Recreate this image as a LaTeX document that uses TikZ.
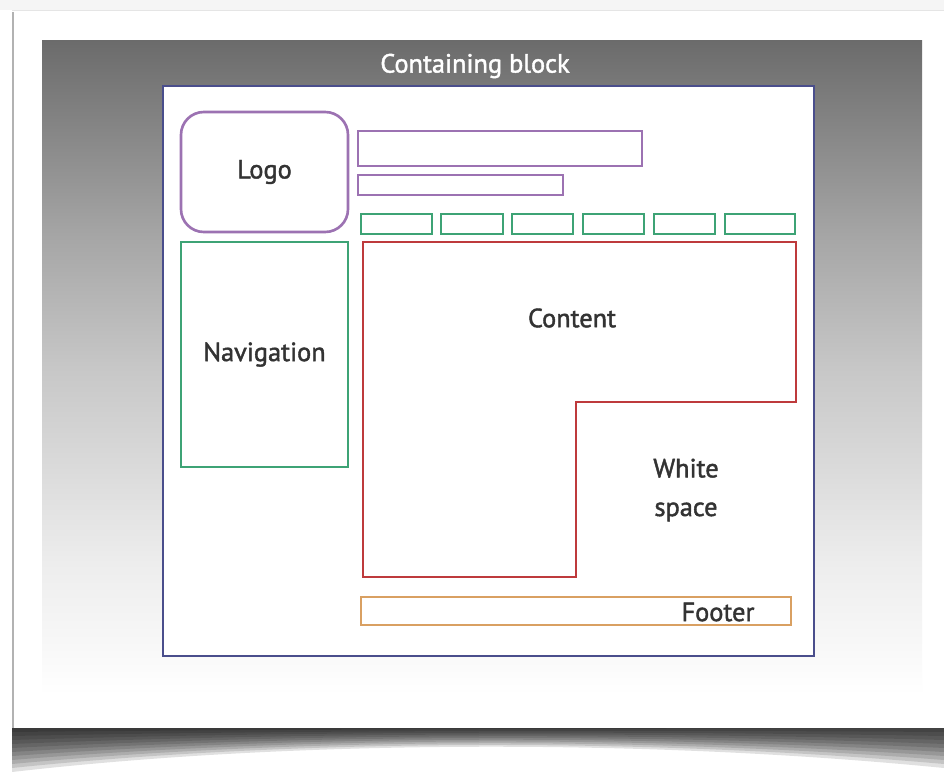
\documentclass[tikz,border=0pt]{standalone}
\usepackage{fontspec}
\setmainfont{PT Sans}
\newfontfamily\boxfont{PT Sans}[FakeBold=1.6]
\usetikzlibrary{positioning}
\definecolor{frameblue}{HTML}{4A4E8C}
\definecolor{logopurple}{HTML}{9C72B2}
\definecolor{navgreen}{HTML}{3DA375}
\definecolor{contentred}{HTML}{BE3A3C}
\definecolor{footerorange}{HTML}{D9A062}
\definecolor{textgray}{HTML}{333333}
\pgfdeclareverticalshading{panelshade}{100bp}{color(0bp)=(white); color(25bp)=(white);
  color(29bp)=(black!3); color(35bp)=(black!7); color(42bp)=(black!14);
  color(50bp)=(black!22); color(60bp)=(black!35); color(75bp)=(black!58); color(100bp)=(black!58)}

\begin{document}
\begin{tikzpicture}[x=0.02cm, y=-0.02cm,
        block/.style={rectangle, line width=1.5pt, inner sep=0pt, outer sep=0pt, fill=white},
        size/.style 2 args={minimum width=#1*0.02cm, minimum height=#2*0.02cm},
        boxtext/.style={font=\boxfont\fontsize{15}{18}\selectfont, text=textgray}]
      \useasboundingbox (0,0) rectangle (944,778);
      % Page and shadow
      \fill[white] (0,0) rectangle (944,778);
      \fill[black!4] (0,0) rectangle (944,10);
      \foreach \d in {4,8,...,44}
        \fill[black, opacity=0.12] (12,728) -- (944,728) -- (944,724+\d)
          .. controls (650,728+\d*0.25) and (300,728+\d*0.25) .. (12,728+\d) -- cycle;
      \fill[white] (12,10) rectangle (944,728);
      \draw[black!10] (944,10) -- (12,10);
      \draw[black!30, line width=1.5pt] (13,12) -- (13,728);
      \shade[shading=panelshade] (42,40) rectangle (922,695);

      % Containing block
      \node[text=white, font=\boxfont\fontsize{15}{18}\selectfont] (title) at (475,66) {Containing block};
      \node[block, draw=frameblue, line width=1.6pt, size={651}{570}, anchor=north west] (container) at (163,86) {};

      % Header
      \node[block, draw=logopurple, rounded corners=13pt, size={167}{120}, anchor=north west, boxtext] (logo) at (181,112) {Logo};
      \node[block, draw=logopurple, size={284}{35}, anchor=north west] (banner) at (358,131) {};
      \node[block, draw=logopurple, size={205}{20}, anchor=north west] (tagline) at (358,175) {};
      \foreach \x/\w [count=\i] in {361/71,441/62,512/61,583/61,654/61,725/70}
        \node[block, draw=navgreen, size={\w}{20}, anchor=north west] (tab\i) at (\x,214) {};

      % Body
      \node[block, draw=navgreen, size={167}{225}, anchor=north west, boxtext] (nav) at (181,242) {Navigation};
      \draw[contentred, line width=1.5pt] (363,242) -- (796,242) -- (796,402) -- (576,402) -- (576,577) -- (363,577) -- cycle;
      \node[boxtext] (content) at (572,318) {Content};
      \node[boxtext, align=center] (whitespace) at (686,490) {White\\[4pt]space};

      % Footer
      \node[block, draw=footerorange, size={430}{28}, anchor=north west] (footer) at (361,597) {};
      \node[boxtext] (footertext) at (718,612) {Footer};
    \end{tikzpicture}
\end{document}
